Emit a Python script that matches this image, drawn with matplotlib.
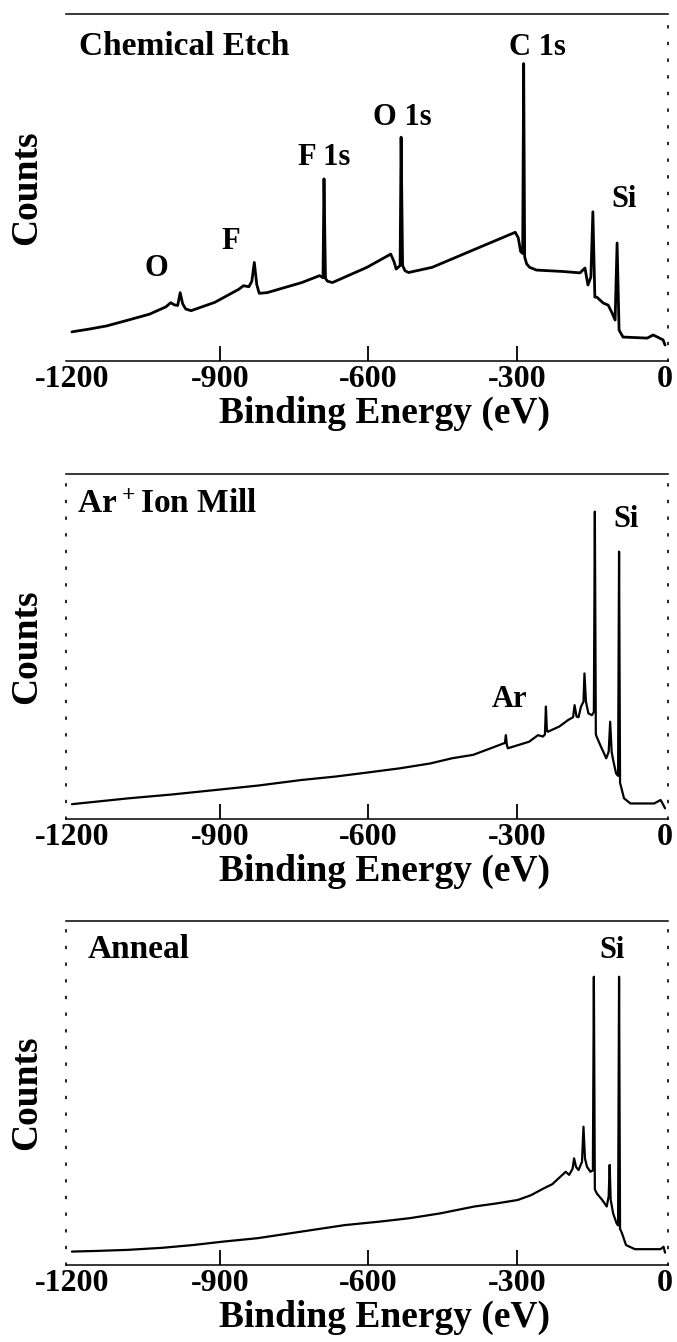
import matplotlib
matplotlib.use("Agg")
import matplotlib.pyplot as plt

plt.rcParams["font.family"] = ["Liberation Serif", "DejaVu Serif"]
plt.rcParams["font.weight"] = "bold"
plt.rcParams["mathtext.fontset"] = "custom"
plt.rcParams["mathtext.rm"] = "Liberation Serif:bold"
plt.rcParams["mathtext.default"] = "rm"

# ---- survey spectra (binding energy in eV, counts in arbitrary units) ----
ce_energy = [-1200, -1165, -1130, -1086, -1043, -1010, -1000, -993, -986, -981,
             -976, -970, -959, -911, -862, -853, -842, -836, -831, -826,
             -821, -805, -735, -699, -692, -690, -687, -683, -673, -603,
             -555, -548, -544, -536, -534, -531, -526, -519, -471, -383,
             -303, -297, -292, -288, -286, -284, -280, -274, -260, -207,
             -172, -162, -156, -150, -146, -142, -138, -125, -115, -107,
             -101, -97, -93, -85, -36, -24, -4, 0]
ce_counts = [8.4, 9.2, 10.1, 11.8, 13.5, 15.6, 16.8, 16.2, 16.0, 19.7,
             16.5, 15.0, 14.5, 16.9, 20.7, 21.7, 21.4, 23.0, 28.4, 22.0,
             19.5, 19.7, 22.6, 24.6, 24.0, 52.5, 23.8, 23.0, 22.6, 27.0,
             30.8, 28.5, 26.5, 27.5, 64.5, 27.5, 26.0, 25.5, 27.0, 32.3,
             37.1, 35.5, 31.5, 31.0, 85.7, 30.0, 28.0, 27.0, 26.2, 25.8,
             25.4, 26.8, 21.9, 24.2, 43.0, 18.4, 18.4, 16.7, 16.1, 13.8,
             11.8, 34.0, 8.9, 6.9, 6.6, 7.5, 6.1, 4.6]

aim_energy = [-1200, -1085, -998, -910, -823, -736, -667, -606, -536, -475,
              -431, -388, -336, -327, -324, -322, -320, -318, -275, -257,
              -247, -243, -241, -239, -237, -214, -196, -186, -183, -179,
              -175, -170, -165, -163, -160, -155, -148, -144, -142, -140,
              -137, -131, -119, -114, -111, -108, -105, -99, -95, -93,
              -91, -89, -83, -70, -22, -9, -5, 0]
aim_counts = [4.3, 6.0, 7.1, 8.4, 9.7, 11.3, 12.3, 13.4, 14.7, 16.1,
              17.6, 18.6, 21.4, 21.9, 22.0, 24.3, 21.5, 20.5, 22.4, 24.3,
              23.9, 24.5, 32.6, 25.5, 25.3, 26.8, 28.7, 29.5, 33.0, 29.7,
              29.5, 32.6, 34.0, 42.2, 34.0, 30.6, 30.1, 31.0, 89.1, 24.5,
              23.4, 21.4, 17.6, 19.5, 28.2, 19.5, 17.1, 13.2, 12.5, 77.5,
              10.5, 9.4, 6.0, 4.5, 4.5, 5.5, 4.5, 3.1]

an_energy = [-1200, -1148, -1087, -1017, -955, -894, -824, -736, -648, -578,
             -517, -455, -386, -341, -298, -271, -245, -228, -219, -201,
             -194, -187, -184, -180, -175, -168, -165, -162, -158, -151,
             -146, -144, -142, -138, -127, -118, -114, -112, -110, -105,
             -98, -95, -93, -91, -87, -79, -61, -9, -3, 0]
an_counts = [3.9, 4.1, 4.4, 5.0, 5.8, 6.8, 7.8, 9.7, 11.6, 12.6,
             13.6, 15.0, 17.0, 17.9, 18.9, 20.3, 22.3, 23.5, 24.7, 27.1,
             26.2, 28.0, 31.0, 28.5, 27.6, 30.0, 40.2, 31.0, 28.6, 27.1,
             27.5, 83.8, 22.0, 20.8, 18.9, 17.0, 20.0, 29.1, 19.0, 15.0,
             12.1, 11.5, 83.8, 10.5, 9.2, 5.8, 4.6, 4.6, 5.3, 3.6]

tick_values = [-1200, -900, -600, -300, 0]
tick_labels = ["-1200", "-900", "-600", "-300", "0"]

# panel titles and peak annotations: (text, energy, counts)
panels = [
    dict(energy=ce_energy, counts=ce_counts, lw=2.0, left_spine=False,
         title=("Chemical Etch", -1185, 88.2),
         peaks=[("C 1s", -259, 88.2), ("O 1s", -532, 67.9),
                ("F 1s", -690, 56.4), ("Si", -82, 44.3),
                ("F", -878, 32.3), ("O", -1029, 24.6)]),
    dict(energy=aim_energy, counts=aim_counts, lw=1.6, left_spine=True,
         title=("Ar$^+$Ion Mill", -1190, 88.7),
         peaks=[("Si", -78, 84.7), ("Ar", -314, 32.6)]),
    dict(energy=an_energy, counts=an_counts, lw=1.6, left_spine=True,
         title=("Anneal", -1168, 89.2),
         peaks=[("Si", -108, 89.1)]),
]

W, H = 677, 1342
fig = plt.figure(figsize=(W / 100, H / 100), dpi=100)

left_px, right_px = 66, 667.5
boxes_px = [(14, 361), (474, 819), (921, 1265)]

for spec, (top_px, bot_px) in zip(panels, boxes_px):
    ax = fig.add_axes([left_px / W, 1 - bot_px / H,
                       (right_px - left_px) / W, (bot_px - top_px) / H])
    ax.plot(spec["energy"], spec["counts"], color="black", lw=spec["lw"],
            solid_joinstyle="round", solid_capstyle="round")
    ax.set_xlim(-1212, 5)
    ax.set_ylim(0, 100)

    ax.set_xticks(tick_values)
    ax.set_xticklabels(tick_labels)
    ax.set_yticks([])
    ax.tick_params(axis="x", direction="in", length=11, width=1.3,
                   pad=3, labelsize=23)
    ticks = ax.xaxis.get_major_ticks()
    for t in (ticks[0], ticks[-1]):
        t.tick1line.set_visible(False)
    for lab in ax.get_xticklabels():
        lab.set_fontweight("bold")

    ax.spines["top"].set_linewidth(1.1)
    ax.spines["bottom"].set_linewidth(1.1)
    for side in ("left", "right"):
        ax.spines[side].set_linestyle((0, (1, 9)))
        ax.spines[side].set_linewidth(1.2)
    ax.spines["left"].set_visible(spec["left_spine"])

    ax.set_xlabel("Binding Energy (eV)", fontsize=27, fontweight="bold")
    ax.xaxis.set_label_coords(0.53, -0.1)
    ax.set_ylabel("Counts", fontsize=27, fontweight="bold")
    ax.yaxis.set_label_coords(-0.036, 0.5)

    text, x, y = spec["title"]
    ax.text(x, y, text, fontsize=24, fontweight="bold", ha="left",
            va="baseline")
    for text, x, y in spec["peaks"]:
        ax.text(x, y, text, fontsize=22, fontweight="bold", ha="center",
                va="baseline")

fig.savefig("out.png", dpi=100)
